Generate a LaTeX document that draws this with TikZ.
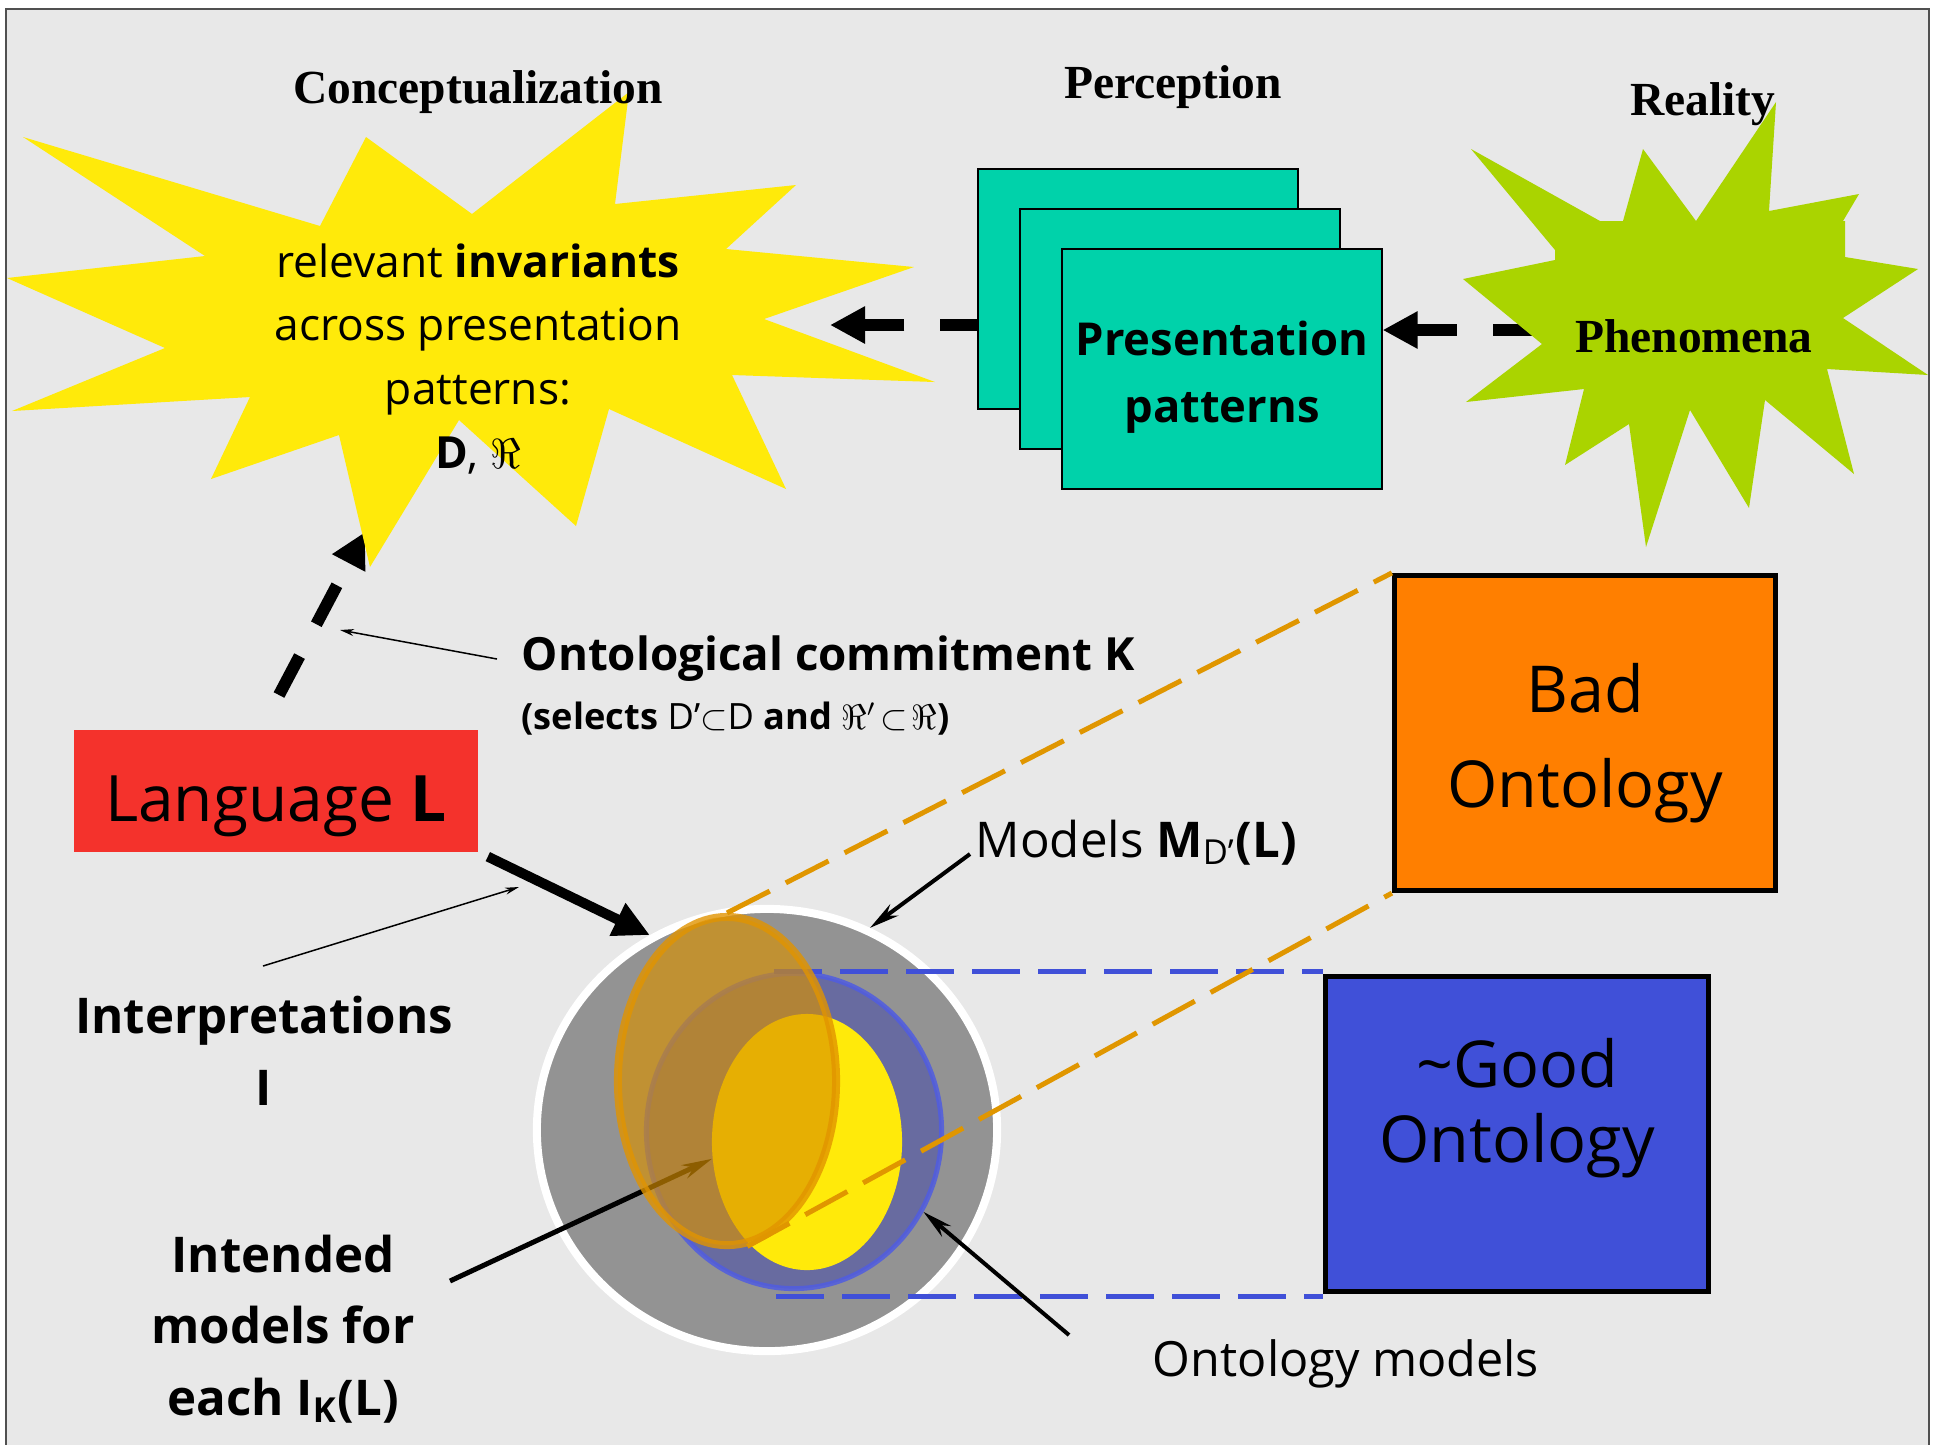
\documentclass[tikz,border=0pt]{standalone}
\usepackage{amsmath,amssymb}
\usepackage{fontspec}
\setmainfont{Open Sans}
\newfontfamily\titlefont{Liberation Serif}
\usetikzlibrary{arrows.meta,shapes.geometric,positioning}
\definecolor{bggray}{RGB}{232,232,232}
\definecolor{framegray}{RGB}{80,80,80}
\definecolor{staryellow}{RGB}{255,234,10}
\definecolor{stargreen}{RGB}{170,212,0}
\definecolor{pteal}{RGB}{0,210,170}
\definecolor{langred}{RGB}{244,50,44}
\definecolor{badorange}{RGB}{255,127,0}
\definecolor{goodblue}{RGB}{64,80,216}
\definecolor{diskgray}{RGB}{147,147,147}
\definecolor{ontoblue}{RGB}{104,107,160}
\definecolor{ringblue}{RGB}{80,92,225}
\definecolor{ellorange}{RGB}{217,144,0}
\definecolor{ringorange}{RGB}{225,148,0}
\definecolor{dashorange}{RGB}{224,150,0}

\begin{document}
\begin{tikzpicture}[x=0.01cm, y=-0.01cm,
  title/.style={font=\titlefont\bfseries\fontsize{13.5pt}{16pt}\selectfont, anchor=base, inner sep=0},
  startxt/.style={font=\fontsize{12.6pt}{18.1pt}\selectfont, align=center, anchor=base, inner sep=0},
  pbox/.style={draw, fill=pteal, line width=0.02cm, minimum width=3.19cm, minimum height=2.39cm, inner sep=0},
  ptext/.style={font=\bfseries\fontsize{12.9pt}{19pt}\selectfont, align=center, text height=33.5pt, text depth=3.1pt},
  langbox/.style={fill=langred, minimum width=4.04cm, minimum height=1.21cm, inner sep=0, font=\fontsize{18.2pt}{22pt}\selectfont, text height=21.8pt, text depth=4.3pt},
  commit/.style={font=\bfseries\fontsize{13pt}{16pt}\selectfont, anchor=base west, inner sep=0},
  selects/.style={font=\bfseries\fontsize{10.3pt}{13pt}\selectfont, anchor=base west, inner sep=0},
  lbl/.style={font=\fontsize{14pt}{17pt}\selectfont, inner sep=0},
  boldlbl/.style={font=\bfseries\fontsize{14pt}{20.3pt}\selectfont, align=center, anchor=base, inner sep=0},
  badbox/.style={draw, fill=badorange, line width=0.05cm, minimum width=3.81cm, minimum height=3.15cm, font=\fontsize{18.4pt}{27pt}\selectfont, align=center, text height=46.9pt, text depth=4.4pt},
  goodbox/.style={draw, fill=goodblue, line width=0.05cm, minimum width=3.83cm, minimum height=3.14cm, font=\fontsize{18.4pt}{21.3pt}\selectfont, align=center, text height=20.8pt, text depth=4.4pt},
  disk/.style={ellipse, draw=white, fill=diskgray, line width=0.08cm, minimum width=4.60cm, minimum height=4.42cm, inner sep=0},
  ontoell/.style={ellipse, draw=ringblue, draw opacity=0.85, fill=ontoblue, line width=0.05cm, minimum width=2.95cm, minimum height=3.15cm, inner sep=0},
  intell/.style={ellipse, fill=staryellow, minimum width=1.90cm, minimum height=2.56cm, inner sep=0},
  badell/.style={ellipse, draw=ringorange, draw opacity=0.8, fill=ellorange, fill opacity=0.65, line width=0.08cm, minimum width=2.18cm, minimum height=3.28cm, inner sep=0},
  thickdash/.style={line width=0.12cm, dash pattern=on 0.44cm off 0.36cm, -{Triangle[length=0.35cm,width=0.35cm]}},
  bigarrow/.style={line width=0.1cm, -{Triangle[length=0.36cm,width=0.34cm]}},
  medarrow/.style={line width=0.04cm, -{Stealth[length=0.3cm,width=0.14cm]}},
  thinarrow/.style={line width=0.015cm, -{Stealth[length=0.14cm,width=0.07cm]}},
  bluedash/.style={goodblue, line width=0.05cm, dash pattern=on 0.48cm off 0.18cm},
  orangedash/.style={dashorange, line width=0.05cm, dash pattern=on 0.48cm off 0.18cm}]

% Frame
\useasboundingbox (0,0) rectangle (1933,1444);
\fill[white] (0,0) rectangle (1933,1444);
\draw[framegray, fill=bggray, line width=0.025cm] (6,9) rectangle (1929,1470);

% Presentation patterns
\node[pbox] (back) at (1138,289) {};
\node[pbox] (mid) at ([shift={(42,40)}]back) {};
\node[pbox, ptext] (front) at ([shift={(42,40)}]mid) {Presentation\\patterns};

% Dashed arrows
\coordinate (kfoot) at (279,695);
\coordinate (ktip) at (365,532);
\coordinate (conc) at (830,325);
\coordinate (phen) at (1537,330);
\draw[thickdash, dash phase=0.07cm] (back.west |- conc) -- (conc);
\draw[thickdash] (phen) -- (phen -| front.east);
\draw[thickdash] (kfoot) -- (ktip);

% Reality
\node[title] (real) at (1703,115) {Reality};

% Stars
\fill[staryellow] (23,137) -- (205,256) -- (7,278) -- (165,348) -- (12,411) -- (250,397)
  -- (211,479) -- (339,435) -- (370,567) -- (459,420) -- (576,526) -- (609,409)
  -- (786,489) -- (732,375) -- (935,382) -- (764,319) -- (914,267) -- (726,249)
  -- (796,185) -- (615,204) -- (629,92) -- (472,214) -- (366,137) -- (320,226) -- cycle;
\fill[stargreen] (1471,149) -- (1600,221) -- (1623,221) -- (1643,149) -- (1696,221)
  -- (1776,102) -- (1769,211) -- (1859,194) -- (1843,221) -- (1845,221) -- (1845,257)
  -- (1918,269) -- (1843,318) -- (1928,375) -- (1827,369) -- (1854,474) -- (1765,400)
  -- (1749,508) -- (1690,410) -- (1646,547) -- (1629,424) -- (1565,465) -- (1584,389)
  -- (1466,402) -- (1542,344) -- (1463,279) -- (1555,260) -- (1555,250) -- cycle;

% Titles
\node[title] (concept) at (478,103) {Conceptualization};
\node[title] (percep) at (1173,98) {Perception};
\node[title] (phenom) at (1694,352) {Phenomena};
\node[startxt] (inv) at (478,468) {relevant \textbf{invariants}\\across presentation\\patterns:\\\textbf{D}, $\Re$};

% Language and commitment
\node[langbox] (lang) at (276,791) {Language \textbf{L}};
\node[commit] (commit) at (521,670) {Ontological commitment K};
\node[selects] (sel) at (521,729) {(selects {\mdseries D'$\subset$D} and $\Re'\!\subset\!\Re$)};
\coordinate (kpt) at (497,659);
\coordinate (kmid) at (340,630);
\draw[thinarrow] (kpt) -- (kmid);

% Labels
\node[lbl, anchor=base west] (models) at (975,857) {Models \textbf{M}\textsubscript{D'}\textbf{(L)}};
\node[boldlbl] (interp) at (264,1105) {Interpretations\\I};
\node[boldlbl] (intent) at (283,1415) {Intended\\models for\\each I\textsubscript{K}(L)};
\node[lbl, anchor=base, font=\fontsize{13.8pt}{17pt}\selectfont] (omodels) at (1346,1376) {Ontology models};

% Ontologies
\node[badbox] (bad) at (1585,733) {Bad\\Ontology};
\node[goodbox] (good) at (1517,1134) {\textasciitilde Good\\Ontology};

% Models
\node[disk] (disk) at (767,1130) {};
\node[ontoell] (onto) at (794,1131) {};
\node[intell] (ell) at (807,1142) {};
\coordinate (gtop) at (774,971);
\coordinate (gbot) at (776,1296);
\draw[bluedash] (gtop) -- (gtop -| good.west);
\draw[bluedash] (gbot) -- (gbot -| good.west);
\coordinate (ipt) at (450,1281);
\draw[medarrow, line width=0.05cm] (ipt) -- (ell.190);
\node[badell] (badreg) at (727,1081) {};
\draw[orangedash] (badreg.north) -- (bad.north west);
\draw[orangedash] (badreg.-83) -- (bad.south west);

% Pointers
\draw[bigarrow, shorten <=0.1cm] (lang.south east) -- (disk.121);
\coordinate (mpt) at (970,854);
\draw[medarrow] (mpt) -- (disk.63);
\coordinate (opt) at (1069,1335);
\draw[medarrow] (opt) -- (onto.-32);
\coordinate (ipt2) at (263,966);
\coordinate (itip) at (519,887);
\draw[thinarrow] (ipt2) -- (itip);
\end{tikzpicture}
\end{document}
